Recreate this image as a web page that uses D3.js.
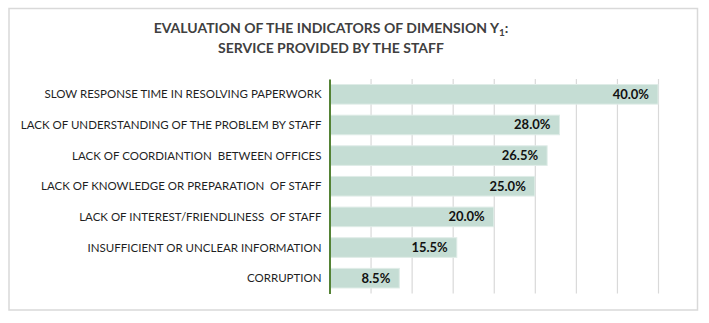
<!DOCTYPE html>
<html>
<head>
<meta charset="utf-8">
<script src="https://cdn.jsdelivr.net/npm/d3@7"></script>
<style>
  body { margin: 0; background: #fff; }
  svg { display: block; }
</style>
</head>
<body>
<div id="chart"></div>
<script>
// categories, top to bottom
const categories = [
    "SLOW RESPONSE TIME IN RESOLVING PAPERWORK",
    "LACK OF UNDERSTANDING OF THE PROBLEM BY STAFF",
    "LACK OF COORDIANTION  BETWEEN OFFICES",
    "LACK OF KNOWLEDGE OR PREPARATION  OF STAFF",
    "LACK OF INTEREST/FRIENDLINESS  OF STAFF",
    "INSUFFICIENT OR UNCLEAR INFORMATION",
    "CORRUPTION"
];
const values = [40.0, 28.0, 26.5, 25.0, 20.0, 15.5, 8.5];
const gridTicks = [5, 10, 15, 20, 25, 30, 35, 40];

const W = 709, H = 323;
const plot = { left: 329.5, right: 658, top: 79, bottom: 293.5 };

const svg = d3.select("#chart")
    .append("svg")
    .attr("width", W)
    .attr("height", H);

svg.append("rect")
    .attr("width", W).attr("height", H)
    .attr("fill", "#fff");

// chart frame
svg.append("rect")
    .attr("x", 9).attr("y", 8.5)
    .attr("width", 688.5).attr("height", 301.5)
    .attr("fill", "none")
    .attr("stroke", "#d9d9d9")
    .attr("stroke-width", 1.5);

const x = d3.scaleLinear()
    .domain([0, 40])
    .range([plot.left, plot.right]);

const y = d3.scaleBand()
    .domain(categories)
    .range([plot.top, plot.bottom])
    .paddingInner(0.36)
    .paddingOuter(0.18);

// vertical gridlines
const grid = svg.append("g")
    .attr("transform", `translate(0, ${plot.bottom})`)
    .call(d3.axisBottom(x)
        .tickValues(gridTicks)
        .tickSize(-(plot.bottom - plot.top))
        .tickFormat(""));
grid.select(".domain").remove();
grid.selectAll(".tick line")
    .attr("stroke", "#d9d9d9")
    .attr("stroke-width", 1.2);

// bars
svg.append("g")
    .selectAll("rect")
    .data(values)
    .enter()
    .append("rect")
    .attr("x", x(0))
    .attr("y", (d, i) => y(categories[i]))
    .attr("width", d => x(d) - x(0))
    .attr("height", y.bandwidth())
    .attr("fill", "#c5ddd4")
    .attr("stroke", "#dfece7")
    .attr("stroke-width", 1);

// value labels
svg.append("g")
    .selectAll("text")
    .data(values)
    .enter()
    .append("text")
    .attr("x", d => x(d) - 9)
    .attr("y", (d, i) => y(categories[i]) + y.bandwidth() / 2 + 4.5)
    .attr("text-anchor", "end")
    .style("font-family", "Lato, 'Open Sans', sans-serif")
    .style("font-size", "13px")
    .style("font-weight", "bold")
    .style("fill", "#111")
    .text(d => d.toFixed(1) + "%");

// category axis (left)
const yAxis = svg.append("g")
    .attr("transform", `translate(${plot.left}, 0)`)
    .call(d3.axisLeft(y).tickSize(0).tickPadding(8));
yAxis.select(".domain")
    .attr("stroke", "#548235")
    .attr("stroke-width", 2);
yAxis.selectAll(".tick text")
    .style("font-family", "Lato, 'Open Sans', sans-serif")
    .style("font-size", "11.5px")
    .style("fill", "#1f1f1f")
    .style("white-space", "pre")
    .attr("dy", "0.35em");

// title
const title = svg.append("g")
    .style("font-family", "Lato, 'Open Sans', sans-serif")
    .style("font-size", "14px")
    .style("font-weight", "bold")
    .style("fill", "#404040")
    .attr("text-anchor", "middle");

const t1 = title.append("text")
    .attr("x", 331)
    .attr("y", 32.5);
t1.append("tspan").text("EVALUATION OF THE INDICATORS OF DIMENSION Y");
t1.append("tspan").attr("dy", 3).style("font-size", "10px").text("1");
t1.append("tspan").attr("dy", -3).text(":");

title.append("text")
    .attr("x", 331)
    .attr("y", 52.5)
    .text("SERVICE PROVIDED BY THE STAFF");
</script>
</body>
</html>
